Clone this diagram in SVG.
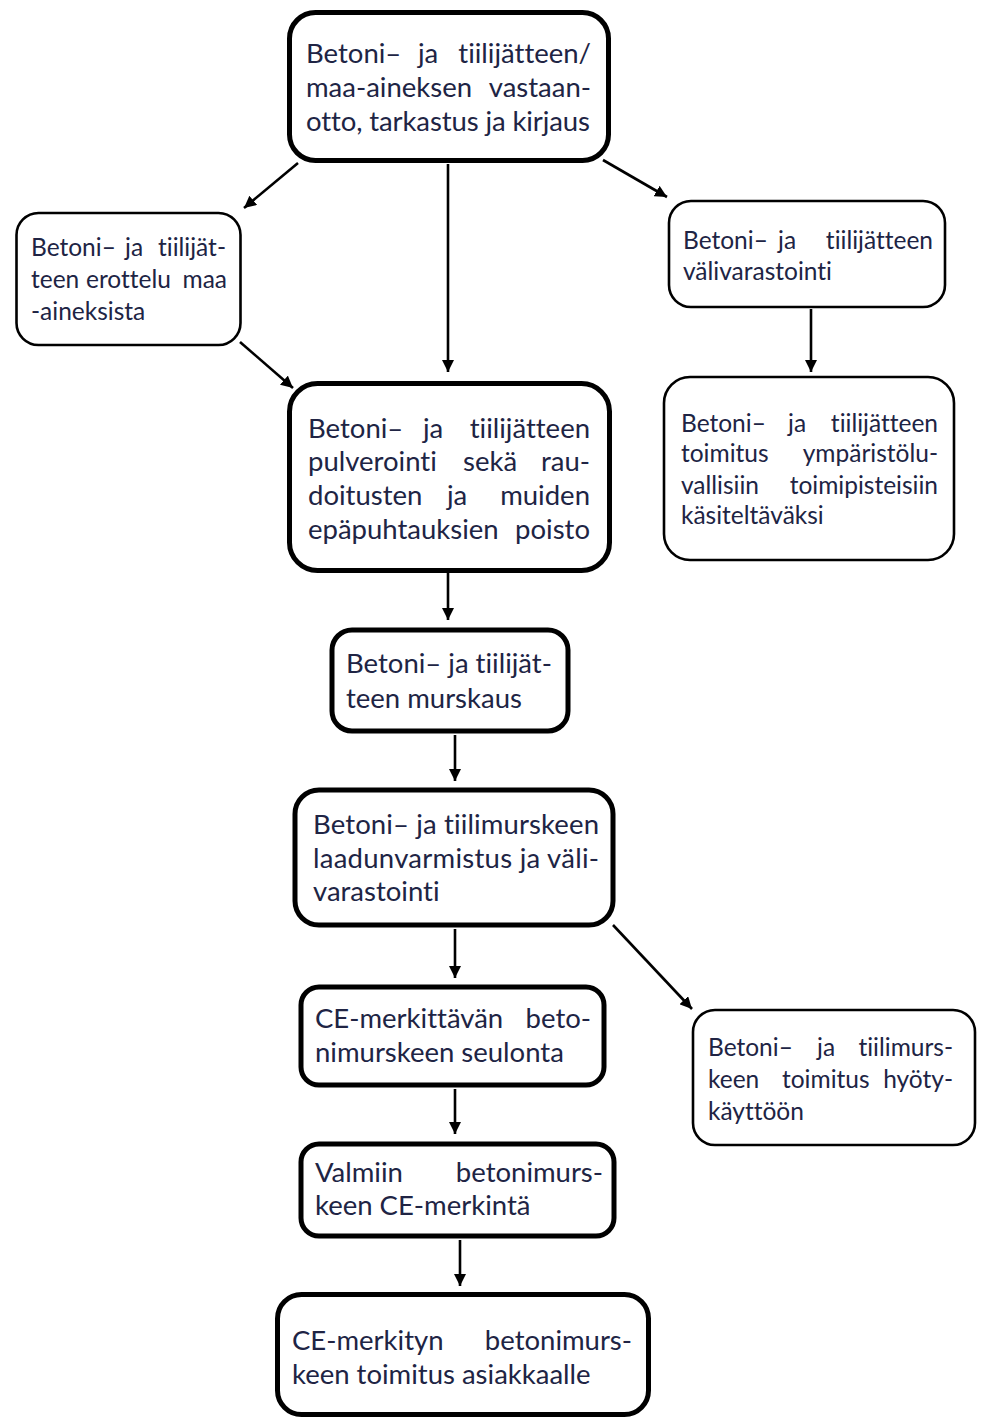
<svg xmlns="http://www.w3.org/2000/svg" width="982" height="1418" viewBox="0 0 982 1418">
<style>
.thick{fill:#fff;stroke:#000;stroke-width:5}
.thin{fill:#fff;stroke:#000;stroke-width:2.6}
.t,.s{font-family:Lato,"Open Sans","Liberation Sans",sans-serif;fill:#202444;font-variant-ligatures:none}
.t{font-size:27.5px}
.s{font-size:24.5px}
.e{text-anchor:end}
.c{stroke:#000;stroke-width:2.6;fill:none;marker-end:url(#ah)}
</style>
<defs>
<marker id="ah" viewBox="0 0 10 10" refX="10" refY="5" markerWidth="12" markerHeight="12" markerUnits="userSpaceOnUse" orient="auto">
<path d="M0,0 L10,5 L0,10 z" fill="#000"/>
</marker>
</defs>
<rect width="982" height="1418" fill="#fff"/>
<g id="connectors">
<line class="c" x1="298" y1="163" x2="244" y2="208"/>
<line class="c" x1="448" y1="164" x2="448" y2="372"/>
<line class="c" x1="603" y1="160" x2="667" y2="197"/>
<line class="c" x1="240" y1="342" x2="293" y2="388"/>
<line class="c" x1="811" y1="309" x2="811" y2="372"/>
<line class="c" x1="448" y1="573" x2="448" y2="620"/>
<line class="c" x1="455" y1="735" x2="455" y2="781"/>
<line class="c" x1="455" y1="929" x2="455" y2="978"/>
<line class="c" x1="613" y1="925" x2="692" y2="1009"/>
<line class="c" x1="455" y1="1089" x2="455" y2="1134"/>
<line class="c" x1="460" y1="1240" x2="460" y2="1286"/>
</g>
<g id="n1">
<rect class="thick" x="289.5" y="12.5" width="319" height="148" rx="26"/>
<text class="t" y="63"><tspan x="306">Betoni–</tspan><tspan x="418">ja</tspan></text>
<text class="t e" x="591" y="63">tiilijätteen/</text>
<text class="t" x="306" y="97">maa-aineksen</text>
<text class="t e" x="591" y="97">vastaan-</text>
<text class="t" x="306" y="131" textLength="284" lengthAdjust="spacing">otto, tarkastus ja kirjaus</text>
</g>
<g id="n2">
<rect class="thin" x="16.5" y="213" width="224" height="132" rx="22"/>
<text class="s" y="256"><tspan x="31">Betoni–</tspan><tspan x="125">ja</tspan></text>
<text class="s e" x="226" y="256">tiilijät-</text>
<text class="s" y="288"><tspan x="31">teen</tspan><tspan x="86">erottelu</tspan></text>
<text class="s e" x="227" y="288">maa</text>
<text class="s" x="31" y="320">-aineksista</text>
</g>
<g id="n3">
<rect class="thin" x="669" y="201" width="276" height="106" rx="22"/>
<text class="s" y="249"><tspan x="683">Betoni–</tspan><tspan x="778">ja</tspan></text>
<text class="s e" x="933" y="249">tiilijätteen</text>
<text class="s" x="683" y="280">välivarastointi</text>
</g>
<g id="n4">
<rect class="thin" x="664" y="377" width="290" height="183" rx="26"/>
<text class="s" y="432"><tspan x="681">Betoni–</tspan><tspan x="788">ja</tspan></text>
<text class="s e" x="938" y="432">tiilijätteen</text>
<text class="s" x="681" y="462">toimitus</text>
<text class="s e" x="938" y="462">ympäristölu-</text>
<text class="s" x="681" y="494">vallisiin</text>
<text class="s e" x="938" y="494">toimipisteisiin</text>
<text class="s" x="681" y="524">käsiteltäväksi</text>
</g>
<g id="n5">
<rect class="thick" x="289.5" y="383.5" width="320" height="187" rx="28"/>
<text class="t" y="438"><tspan x="308">Betoni–</tspan><tspan x="423">ja</tspan></text>
<text class="t e" x="590" y="438">tiilijätteen</text>
<text class="t" y="471"><tspan x="308">pulverointi</tspan><tspan x="463">sekä</tspan></text>
<text class="t e" x="590" y="471">rau-</text>
<text class="t" y="505"><tspan x="308">doitusten</tspan><tspan x="447">ja</tspan></text>
<text class="t e" x="590" y="505">muiden</text>
<text class="t" x="308" y="539">epäpuhtauksien</text>
<text class="t e" x="590" y="539">poisto</text>
</g>
<g id="n6">
<rect class="thick" x="332" y="630" width="236" height="101" rx="20"/>
<text class="t" x="346" y="673">Betoni– ja tiilijät-</text>
<text class="t" x="346" y="708">teen murskaus</text>
</g>
<g id="n7">
<rect class="thick" x="295" y="790" width="318" height="135" rx="24"/>
<text class="t" x="313" y="834" textLength="286" lengthAdjust="spacing">Betoni– ja tiilimurskeen</text>
<text class="t" x="313" y="868" textLength="286" lengthAdjust="spacing">laadunvarmistus ja väli-</text>
<text class="t" x="313" y="901">varastointi</text>
</g>
<g id="n8">
<rect class="thick" x="301" y="987" width="303" height="98" rx="18"/>
<text class="t" x="315" y="1028">CE-merkittävän</text>
<text class="t e" x="591" y="1028">beto-</text>
<text class="t" x="315" y="1062">nimurskeen seulonta</text>
</g>
<g id="n9">
<rect class="thin" x="693" y="1010" width="282" height="135" rx="22"/>
<text class="s" y="1056"><tspan x="708">Betoni–</tspan><tspan x="817">ja</tspan></text>
<text class="s e" x="953" y="1056">tiilimurs-</text>
<text class="s" y="1088"><tspan x="708">keen</tspan><tspan x="782">toimitus</tspan></text>
<text class="s e" x="953" y="1088">hyöty-</text>
<text class="s" x="708" y="1120">käyttöön</text>
</g>
<g id="n10">
<rect class="thick" x="301" y="1144" width="313" height="92" rx="18"/>
<text class="t" x="315" y="1182">Valmiin</text>
<text class="t e" x="603" y="1182">betonimurs-</text>
<text class="t" x="315" y="1215">keen CE-merkintä</text>
</g>
<g id="n11">
<rect class="thick" x="277.5" y="1294.5" width="371" height="120" rx="24"/>
<text class="t" x="292" y="1350">CE-merkityn</text>
<text class="t e" x="632" y="1350">betonimurs-</text>
<text class="t" x="292" y="1384">keen toimitus asiakkaalle</text>
</g>
</svg>
